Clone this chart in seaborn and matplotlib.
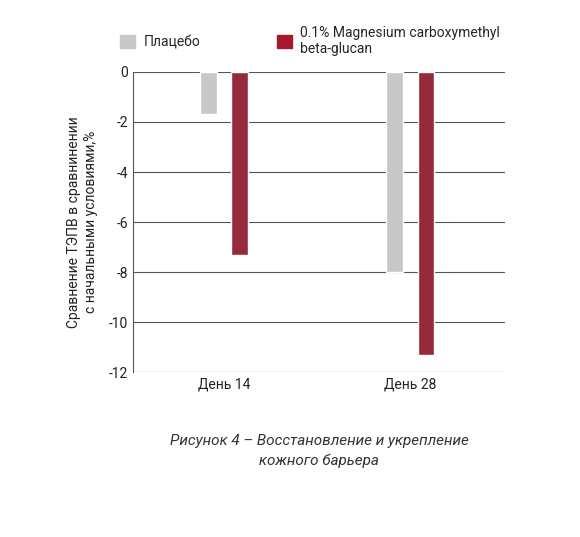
import matplotlib
matplotlib.use("Agg")
import matplotlib.pyplot as plt
import matplotlib.ticker as mticker
import seaborn as sns
import pandas as pd

days = ["День 14", "День 28"]
groups = ["Плацебо", "0.1% Magnesium carboxymethyl\nbeta-glucan"]
placebo = [-1.7, -8.0]
magnesium = [-7.3, -11.3]
colors = ["#c8c8c8", "#a5192e"]

df = pd.DataFrame({
    "day": days * 2,
    "group": [groups[0]] * 2 + [groups[1]] * 2,
    "value": placebo + magnesium,
})

sns.set_style("white")
plt.rcParams["font.family"] = ["Roboto", "DejaVu Sans"]

fig = plt.figure(figsize=(5.8, 5.37), dpi=100)
ax = fig.add_axes([0.229, 0.307, 0.642, 0.559])

sns.barplot(data=df, x="day", y="value", hue="group", palette=colors,
            width=0.34, gap=0.47, ax=ax, legend=False)

ax.set_ylim(-12, 0)
ax.set_xlim(-0.49, 1.51)
ax.set_yticks(range(-12, 1, 2))
ax.yaxis.set_major_formatter(mticker.FuncFormatter(lambda v, p: f"{int(v)}".replace("\u2212", "-")))
ax.grid(axis="y", color="#555555", linewidth=0.8)
ax.set_axisbelow(True)
for s in ["top", "right", "bottom"]:
    ax.spines[s].set_visible(False)
ax.spines["left"].set_color("#555555")
ax.tick_params(length=0, labelsize=10, colors="#222222")
ax.set_xlabel("")
ax.set_ylabel("Сравнение ТЭПВ в сравнинении\nс начальными условиями,%",
              fontsize=10, color="#222222", labelpad=8)

handles = [plt.Rectangle((0, 0), 1, 1, color=c) for c in colors]
fig.legend(handles, groups, loc="upper left", bbox_to_anchor=(0.185, 0.975),
           ncol=2, frameon=False, fontsize=10, handlelength=1.1, handleheight=1.1,
           columnspacing=5.5, handletextpad=0.6)

fig.text(0.55, 0.16, "Рисунок 4 – Восстановление и укрепление\nкожного барьера",
         ha="center", va="center", fontsize=11, style="italic", color="#333333",
         linespacing=1.5)

fig.savefig("out.png", dpi=100)
